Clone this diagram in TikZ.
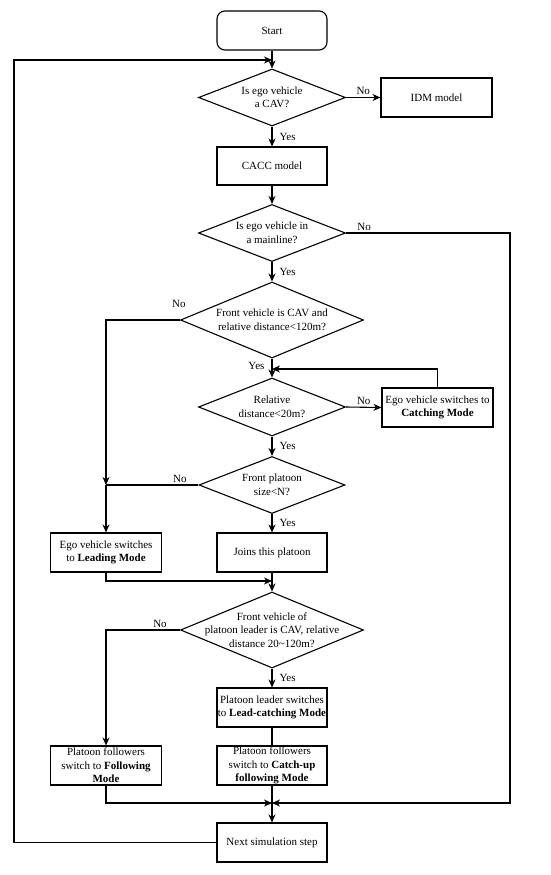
\documentclass[tikz,border=0pt]{standalone}
\usepackage{fontspec}
\setmainfont{Liberation Serif}
\usetikzlibrary{shapes.geometric,arrows.meta}
\begin{document}
\begin{tikzpicture}[x=1pt,y=-1pt,
  every node/.style={font=\fontsize{11}{13.5}\selectfont},
  ln/.style={line width=1.1pt},
  arr/.style={ln,-{Stealth[length=8pt,width=7pt,inset=2.5pt]}},
  box/.style={draw,ln,rectangle,minimum width=110pt,minimum height=39pt,inner sep=0pt,align=center},
  startbox/.style={box,rounded corners=8pt},
  dec/.style={draw,ln,diamond,inner sep=0pt},
  dtext/.style={align=center,inner sep=0pt},
  lab/.style={inner sep=2pt}
]
\useasboundingbox (0,0) rectangle (550,875);

% nodes
\node[startbox] (start) at (272,30.5) {Start};
\node[dec,minimum width=147pt,minimum height=57pt,label={[dtext]center:{Is ego vehicle\\a CAV?}}] (d1) at (272,97.5) {};
\node[box,minimum width=111pt] (idm) at (436.5,97.5) {IDM model};
\node[box,minimum height=38pt] (cacc) at (272,166) {CACC model};
\node[dec,minimum width=147pt,minimum height=57pt,label={[dtext]center:{Is ego vehicle in\\a mainline?}}] (d2) at (272,233) {};
\node[dec,minimum width=183pt,minimum height=76pt,label={[dtext]center:{Front vehicle is CAV and\\relative distance<120m?}}] (d3) at (272,320) {};
\node[dec,minimum width=147pt,minimum height=58pt,label={[dtext]center:{Relative\\distance<20m?}}] (d4) at (272,407) {};
\node[box,minimum width=111pt] (catch) at (437.5,407.5) {Ego vehicle switches to\\\textbf{Catching Mode}};
\node[dec,minimum width=146pt,minimum height=57pt,label={[dtext]center:{Front platoon\\size<N?}}] (d5) at (272,485) {};
\node[box] (joins) at (272,552.5) {Joins this platoon};
\node[box,minimum width=111pt] (lead) at (106,552.5) {Ego vehicle switches\\to \textbf{Leading Mode}};
\node[dec,minimum width=183pt,minimum height=76pt,label={[dtext]center:{Front vehicle of\\platoon leader is CAV, relative\\distance 20\textasciitilde120m?}}] (d6) at (272,630) {};
\node[box] (lc) at (272,707.5) {Platoon leader switches\\to \textbf{Lead-catching Mode}};
\node[box] (cu) at (272,765.5) {Platoon followers\\switch to \textbf{Catch-up}\\\textbf{following Mode}};
\node[box,minimum width=111pt] (foll) at (106,765.5) {Platoon followers\\switch to \textbf{Following}\\\textbf{Mode}};
\node[box] (next) at (272,842.5) {Next simulation step};

% join coordinates
\coordinate (j1) at (272,60);
\coordinate (lp) at (14,60);
\coordinate (rx) at (510,233);
\coordinate (j4) at (272,369);
\coordinate (l1) at (106,485);
\coordinate (j5) at (272,581);
\coordinate (j6) at (272,803);

% connectors
\draw[arr] (start.south) -- (d1.north);
\draw[arr] (next.west) -| (lp) -- (j1);
\draw[arr] (d1.east) -- node[lab,above]{No} (idm.west);
\draw[arr] (d1.south) -- node[lab,right,xshift=5pt]{Yes} (cacc.north);
\draw[arr] (cacc.south) -- (d2.north);
\draw[arr] (d2.east) -- node[lab,above,pos=0.11]{No} (rx) |- (j6);
\draw[arr] (d2.south) -- node[lab,right,xshift=5pt]{Yes} (d3.north);
\draw[arr] (d3.west) node[lab,anchor=south,yshift=10pt,xshift=-1pt]{No} -| (l1);
\draw[arr] (d3.south) -- node[lab,left,xshift=-5pt,yshift=2pt]{Yes} (d4.north);
\draw[arr] (d4.east) -- node[lab,above]{No} (catch.west);
\draw[arr] (catch.north) |- (j4);
\draw[arr] (d4.south) -- node[lab,right,xshift=5pt]{Yes} (d5.north);
\draw[ln] (d5.west) -- node[lab,above,pos=0.2]{No} (l1);
\draw[arr] (l1) -- (lead.north);
\draw[arr] (d5.south) -- node[lab,right,xshift=5pt]{Yes} (joins.north);
\draw[arr] (lead.south) |- (j5);
\draw[arr] (joins.south) -- (d6.north);
\draw[arr] (d6.west) -- node[lab,above,pos=0.27]{No} (d6.west -| foll.north) -- (foll.north);
\draw[arr] (d6.south) -- node[lab,right,xshift=5pt]{Yes} (lc.north);
\draw[ln] (lc.south) -- (cu.north);
\draw[arr] (foll.south) |- (j6);
\draw[arr] (cu.south) -- (next.north);
\end{tikzpicture}
\end{document}
